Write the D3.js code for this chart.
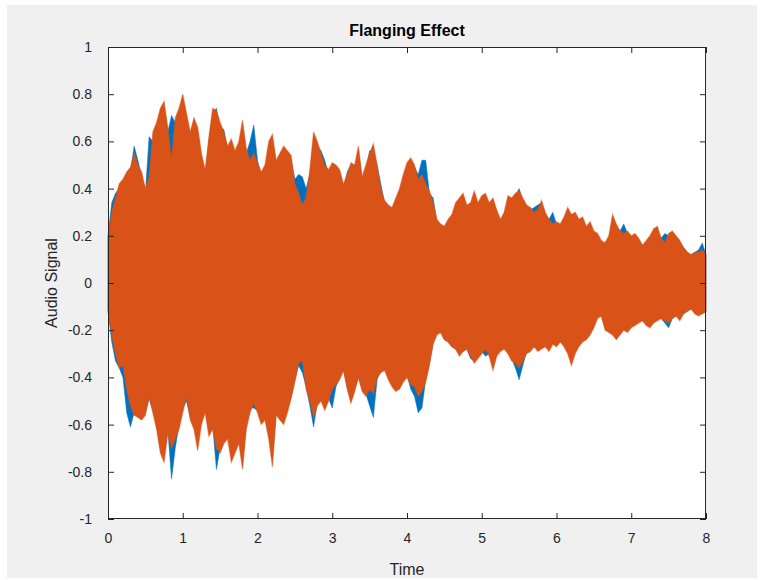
<!DOCTYPE html>
<html>
<head>
<meta charset="utf-8">
<script src="https://cdn.jsdelivr.net/npm/d3@7"></script>
<style>
  body { margin: 0; background: #fff; }
  svg { display: block; font-family: "Liberation Sans", Arial, sans-serif; }
</style>
</head>
<body>
<svg id="chart" width="761" height="580"></svg>
<script>
// waveform envelopes, one value every 0.05 s
const step = 0.05;

// flanged signal (orange)
const flangedTop = [
  0.19, 0.30, 0.36, 0.42, 0.44, 0.47, 0.49, 0.55, 0.50, 0.47,
  0.40, 0.45, 0.64, 0.68, 0.74, 0.77, 0.66, 0.52, 0.70, 0.74,
  0.80, 0.72, 0.64, 0.70, 0.66, 0.55, 0.48, 0.62, 0.74, 0.73,
  0.68, 0.64, 0.58, 0.61, 0.56, 0.60, 0.69, 0.57, 0.52, 0.55,
  0.51, 0.47, 0.50, 0.60, 0.63, 0.52, 0.55, 0.58, 0.56, 0.54,
  0.42, 0.38, 0.33, 0.36, 0.48, 0.64, 0.60, 0.55, 0.50, 0.48,
  0.51, 0.50, 0.48, 0.42, 0.46, 0.51, 0.50, 0.58, 0.45, 0.50,
  0.55, 0.59, 0.50, 0.40, 0.35, 0.33, 0.32, 0.36, 0.40, 0.46,
  0.51, 0.53, 0.50, 0.44, 0.46, 0.42, 0.39, 0.34, 0.27, 0.25,
  0.24, 0.27, 0.29, 0.34, 0.36, 0.38, 0.33, 0.34, 0.39, 0.34,
  0.37, 0.38, 0.34, 0.36, 0.31, 0.27, 0.30, 0.37, 0.36, 0.38,
  0.39, 0.36, 0.33, 0.32, 0.30, 0.31, 0.35, 0.30, 0.27, 0.25,
  0.26, 0.25, 0.28, 0.32, 0.29, 0.30, 0.27, 0.28, 0.24, 0.26,
  0.22, 0.21, 0.18, 0.17, 0.20, 0.29, 0.25, 0.22, 0.21, 0.22,
  0.20, 0.21, 0.19, 0.16, 0.18, 0.20, 0.23, 0.24, 0.19, 0.17,
  0.21, 0.22, 0.20, 0.18, 0.15, 0.13, 0.12, 0.13, 0.13, 0.14,
  0.12
];
const flangedBottom = [
  -0.11, -0.22, -0.30, -0.36, -0.35, -0.45, -0.52, -0.56, -0.57, -0.58,
  -0.56, -0.48, -0.55, -0.62, -0.72, -0.76, -0.64, -0.70, -0.66, -0.62,
  -0.55, -0.48, -0.58, -0.62, -0.71, -0.60, -0.55, -0.65, -0.62, -0.70,
  -0.72, -0.68, -0.66, -0.76, -0.72, -0.68, -0.79, -0.62, -0.55, -0.51,
  -0.55, -0.60, -0.58, -0.66, -0.78, -0.56, -0.58, -0.60, -0.55, -0.49,
  -0.42, -0.34, -0.33, -0.45, -0.50, -0.57, -0.52, -0.50, -0.54, -0.50,
  -0.45, -0.43, -0.41, -0.37, -0.45, -0.51, -0.46, -0.40, -0.46, -0.48,
  -0.45, -0.47, -0.40, -0.38, -0.37, -0.41, -0.44, -0.46, -0.45, -0.42,
  -0.40, -0.43, -0.44, -0.48, -0.46, -0.42, -0.35, -0.26, -0.22, -0.21,
  -0.24, -0.25, -0.27, -0.28, -0.31, -0.29, -0.28, -0.31, -0.34, -0.32,
  -0.30, -0.28, -0.31, -0.37, -0.31, -0.29, -0.28, -0.30, -0.33, -0.34,
  -0.36, -0.33, -0.30, -0.29, -0.27, -0.29, -0.28, -0.27, -0.29, -0.26,
  -0.27, -0.25, -0.27, -0.30, -0.35, -0.30, -0.27, -0.25, -0.24, -0.22,
  -0.19, -0.15, -0.14, -0.20, -0.21, -0.22, -0.24, -0.22, -0.20, -0.21,
  -0.19, -0.18, -0.17, -0.16, -0.18, -0.19, -0.17, -0.16, -0.15, -0.16,
  -0.17, -0.15, -0.14, -0.16, -0.13, -0.12, -0.11, -0.13, -0.14, -0.13,
  -0.12
];

// original signal (blue), mostly hidden under the orange one
const originalTop = [
  0.20, 0.34, 0.38, 0.40, 0.43, 0.45, 0.47, 0.58, 0.52, 0.45,
  0.38, 0.62, 0.60, 0.66, 0.72, 0.74, 0.64, 0.71, 0.68, 0.70,
  0.76, 0.70, 0.62, 0.66, 0.64, 0.52, 0.46, 0.60, 0.72, 0.74,
  0.66, 0.65, 0.56, 0.58, 0.54, 0.57, 0.64, 0.55, 0.60, 0.67,
  0.52, 0.45, 0.48, 0.57, 0.60, 0.50, 0.53, 0.56, 0.54, 0.52,
  0.44, 0.46, 0.45, 0.40, 0.46, 0.60, 0.58, 0.56, 0.52, 0.46,
  0.49, 0.48, 0.46, 0.40, 0.47, 0.50, 0.48, 0.55, 0.44, 0.48,
  0.56, 0.56, 0.50, 0.42, 0.34, 0.32, 0.31, 0.35, 0.38, 0.44,
  0.49, 0.51, 0.49, 0.46, 0.52, 0.52, 0.38, 0.36, 0.26, 0.24,
  0.23, 0.26, 0.28, 0.32, 0.35, 0.37, 0.32, 0.33, 0.37, 0.33,
  0.36, 0.36, 0.33, 0.34, 0.30, 0.26, 0.29, 0.35, 0.35, 0.37,
  0.40, 0.35, 0.32, 0.31, 0.32, 0.33, 0.34, 0.29, 0.27, 0.30,
  0.25, 0.24, 0.27, 0.30, 0.28, 0.29, 0.26, 0.27, 0.23, 0.25,
  0.21, 0.20, 0.17, 0.17, 0.19, 0.27, 0.24, 0.22, 0.25, 0.21,
  0.19, 0.20, 0.18, 0.16, 0.17, 0.19, 0.21, 0.22, 0.19, 0.21,
  0.20, 0.20, 0.19, 0.17, 0.15, 0.13, 0.12, 0.13, 0.14, 0.17,
  0.12
];
const originalBottom = [
  -0.12, -0.25, -0.33, -0.36, -0.40, -0.55, -0.61, -0.55, -0.56, -0.57,
  -0.55, -0.49, -0.54, -0.60, -0.70, -0.72, -0.62, -0.83, -0.70, -0.60,
  -0.53, -0.50, -0.57, -0.60, -0.68, -0.58, -0.53, -0.63, -0.60, -0.79,
  -0.70, -0.66, -0.64, -0.73, -0.70, -0.66, -0.76, -0.60, -0.53, -0.53,
  -0.54, -0.58, -0.56, -0.64, -0.74, -0.55, -0.57, -0.58, -0.53, -0.48,
  -0.41, -0.35, -0.38, -0.44, -0.52, -0.61, -0.51, -0.49, -0.52, -0.49,
  -0.53, -0.44, -0.40, -0.37, -0.44, -0.50, -0.45, -0.40, -0.45, -0.47,
  -0.52, -0.57, -0.41, -0.37, -0.36, -0.40, -0.43, -0.45, -0.44, -0.41,
  -0.39, -0.45, -0.48, -0.55, -0.53, -0.41, -0.34, -0.25, -0.21, -0.21,
  -0.24, -0.25, -0.27, -0.28, -0.30, -0.29, -0.28, -0.32, -0.33, -0.31,
  -0.29, -0.31, -0.30, -0.36, -0.30, -0.28, -0.27, -0.29, -0.32, -0.36,
  -0.41, -0.35, -0.29, -0.28, -0.27, -0.28, -0.27, -0.27, -0.28, -0.25,
  -0.26, -0.25, -0.26, -0.29, -0.33, -0.29, -0.26, -0.24, -0.23, -0.21,
  -0.18, -0.14, -0.14, -0.19, -0.20, -0.21, -0.23, -0.21, -0.19, -0.20,
  -0.18, -0.17, -0.16, -0.16, -0.17, -0.18, -0.16, -0.15, -0.15, -0.17,
  -0.19, -0.15, -0.14, -0.15, -0.13, -0.12, -0.11, -0.12, -0.13, -0.13,
  -0.12
];

const xTicks = [0, 1, 2, 3, 4, 5, 6, 7, 8];
const yTicks = [-1, -0.8, -0.6, -0.4, -0.2, 0, 0.2, 0.4, 0.6, 0.8, 1];

const svg = d3.select("#chart");
const margin = { left: 108, top: 47, right: 706, bottom: 519 };
const axisColor = "#262626";

// figure background
svg.append("rect")
  .attr("x", 7).attr("y", 5)
  .attr("width", 750).attr("height", 573)
  .attr("fill", "#f0f0f0");

svg.append("rect")
  .attr("x", margin.left).attr("y", margin.top)
  .attr("width", margin.right - margin.left)
  .attr("height", margin.bottom - margin.top)
  .attr("fill", "#fff");

const x = d3.scaleLinear().domain([0, 8]).range([margin.left, margin.right]);
const y = d3.scaleLinear().domain([-1, 1]).range([margin.bottom, margin.top]);

function envelope(top, bottom) {
  return top.map((v, i) => ({ t: i * step, hi: v, lo: bottom[i] }));
}

const area = d3.area()
  .x(d => x(d.t))
  .y0(d => y(d.lo))
  .y1(d => y(d.hi));

const plot = svg.append("g");

plot.append("path")
  .datum(envelope(originalTop, originalBottom))
  .attr("d", area)
  .attr("fill", "#0072bd")
  .attr("stroke", "#0072bd")
  .attr("stroke-opacity", 0.5)
  .attr("stroke-width", 1);

plot.append("path")
  .datum(envelope(flangedTop, flangedBottom))
  .attr("d", area)
  .attr("fill", "#d95319")
  .attr("stroke", "#d95319")
  .attr("stroke-opacity", 0.5)
  .attr("stroke-width", 1.2);

// axes, matlab style: ticks inside, box on
const fmt = d => String(d);

const customAxis = (g) => {
  g.select(".domain").remove();
  g.selectAll(".tick line").attr("stroke", axisColor);
  g.selectAll(".tick text")
    .attr("fill", axisColor)
    .style("font-size", "14px");
};

svg.append("g")
  .attr("transform", `translate(0,${margin.bottom})`)
  .call(d3.axisBottom(x).tickValues(xTicks).tickFormat(fmt).tickSizeInner(-6).tickSizeOuter(0).tickPadding(14))
  .call(customAxis);

svg.append("g")
  .attr("transform", `translate(0,${margin.top})`)
  .call(d3.axisTop(x).tickValues(xTicks).tickFormat("").tickSizeInner(-6).tickSizeOuter(0))
  .call(customAxis);

svg.append("g")
  .attr("transform", `translate(${margin.left},0)`)
  .call(d3.axisLeft(y).tickValues(yTicks).tickFormat(fmt).tickSizeInner(-6).tickSizeOuter(0).tickPadding(16))
  .call(customAxis);

svg.append("g")
  .attr("transform", `translate(${margin.right},0)`)
  .call(d3.axisRight(y).tickValues(yTicks).tickFormat("").tickSizeInner(-6).tickSizeOuter(0))
  .call(customAxis);

svg.append("rect")
  .attr("x", margin.left + 0.5).attr("y", margin.top + 0.5)
  .attr("width", margin.right - margin.left - 1)
  .attr("height", margin.bottom - margin.top - 1)
  .attr("fill", "none")
  .attr("stroke", axisColor)
  .attr("stroke-width", 1);

svg.append("text")
  .attr("x", (margin.left + margin.right) / 2)
  .attr("y", 36)
  .attr("text-anchor", "middle")
  .attr("font-weight", "bold")
  .attr("font-size", 16)
  .attr("fill", "#000")
  .text("Flanging Effect");

svg.append("text")
  .attr("x", (margin.left + margin.right) / 2)
  .attr("y", 575)
  .attr("text-anchor", "middle")
  .attr("font-size", 16)
  .attr("fill", axisColor)
  .text("Time");

svg.append("text")
  .attr("transform", `translate(57,${y(0)}) rotate(-90)`)
  .attr("text-anchor", "middle")
  .attr("font-size", 16)
  .attr("fill", axisColor)
  .text("Audio Signal");
</script>
</body>
</html>
